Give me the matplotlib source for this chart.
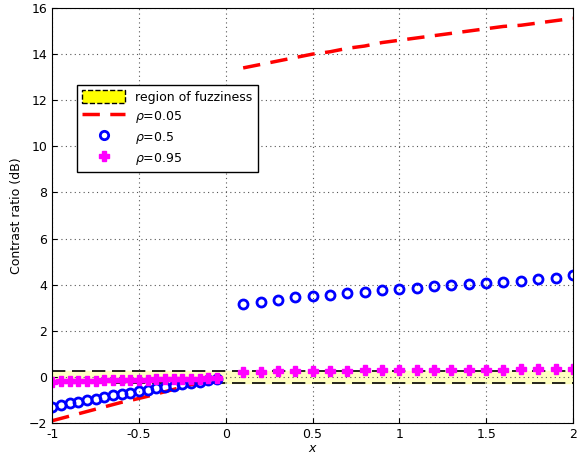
import matplotlib
matplotlib.use("Agg")
import matplotlib.pyplot as plt
from matplotlib.patches import Patch

x_left = [-1.0, -0.95, -0.9, -0.85, -0.8, -0.75, -0.7, -0.65, -0.6, -0.55,
          -0.5, -0.45, -0.4, -0.35, -0.3, -0.25, -0.2, -0.15, -0.1, -0.05]
x_right = [0.1, 0.2, 0.3, 0.4, 0.5, 0.6, 0.7, 0.8, 0.9, 1.0,
           1.1, 1.2, 1.3, 1.4, 1.5, 1.6, 1.7, 1.8, 1.9, 2.0]

red_left = [-1.9, -1.8, -1.7, -1.6, -1.5, -1.4, -1.3, -1.2, -1.1, -1.02,
            -0.93, -0.84, -0.74, -0.64, -0.54, -0.44, -0.34, -0.25, -0.15, -0.06]
red_right = [13.4, 13.55, 13.7, 13.85, 14.0, 14.1, 14.25, 14.35, 14.5, 14.6,
             14.7, 14.8, 14.9, 15.0, 15.1, 15.2, 15.25, 15.35, 15.45, 15.55]

blue_left = [-1.3, -1.22, -1.15, -1.08, -1.01, -0.94, -0.87, -0.8, -0.74, -0.68,
             -0.62, -0.56, -0.5, -0.44, -0.38, -0.32, -0.26, -0.2, -0.14, -0.08]
blue_right = [3.15, 3.25, 3.35, 3.45, 3.5, 3.57, 3.63, 3.7, 3.75, 3.82,
              3.87, 3.93, 3.97, 4.02, 4.07, 4.12, 4.18, 4.24, 4.3, 4.4]

mag_left = [-0.2, -0.19, -0.18, -0.18, -0.17, -0.16, -0.15, -0.15, -0.14, -0.13,
            -0.12, -0.12, -0.11, -0.1, -0.09, -0.09, -0.08, -0.07, -0.06, -0.05]
mag_right = [0.22, 0.23, 0.24, 0.25, 0.26, 0.26, 0.27, 0.28, 0.28, 0.29,
             0.3, 0.3, 0.31, 0.31, 0.32, 0.32, 0.33, 0.33, 0.34, 0.35]

fuzz = 0.25

fig = plt.figure(figsize=(5.87, 4.69), dpi=100)
ax = fig.add_axes([0.089, 0.098, 0.887, 0.885])

ax.axhspan(-fuzz, fuzz, color="#ffffc0", zorder=0)
ax.axhline(fuzz, color="black", ls=(0, (8, 4)), lw=1.2, zorder=1)
ax.axhline(-fuzz, color="black", ls=(0, (8, 4)), lw=1.2, zorder=1)

ax.plot(x_left, red_left, color="red", ls="--", lw=2.5, dashes=(5, 3))
ax.plot(x_right, red_right, color="red", ls="--", lw=2.5, dashes=(5, 3))
mk = dict(ls="none", marker="o", mfc="none", mec="blue", mew=2, ms=6.5)
ax.plot(x_left, blue_left, **mk)
ax.plot(x_right, blue_right, **mk)
mg = dict(ls="none", marker="P", color="magenta", ms=7)
ax.plot(x_left, mag_left, **mg)
ax.plot(x_right, mag_right, **mg)

ax.set_xlim(-1, 2)
ax.set_ylim(-2, 16)
ax.set_xticks([-1, -0.5, 0, 0.5, 1, 1.5, 2])
ax.set_xticklabels(["-1", "-0.5", "0", "0.5", "1", "1.5", "2"])
ax.set_yticks(range(-2, 17, 2))
ax.grid(True, color="#555555", ls=(0, (1, 3)), lw=0.8)
ax.tick_params(direction="in", labelsize=9)
ax.set_xlabel("$x$", fontsize=9, labelpad=1)
ax.set_ylabel("Contrast ratio (dB)", fontsize=9)

handles = [
    Patch(facecolor="yellow", edgecolor="black", ls="--", lw=1),
    plt.Line2D([], [], color="red", ls="--", lw=2.5, dashes=(5, 3)),
    plt.Line2D([], [], ls="none", marker="o", mfc="none", mec="blue", mew=2, ms=6),
    plt.Line2D([], [], ls="none", marker="P", color="magenta", ms=7),
]
labels = ["region of fuzziness", "$\\rho$=0.05", "$\\rho$=0.5", "$\\rho$=0.95"]
ax.legend(handles, labels, loc="upper left", bbox_to_anchor=(0.035, 0.83),
          fontsize=9, fancybox=False, edgecolor="black", framealpha=1,
          handlelength=3.5, handleheight=1.3, labelspacing=0.4)

fig.savefig("out.png", dpi=100)
